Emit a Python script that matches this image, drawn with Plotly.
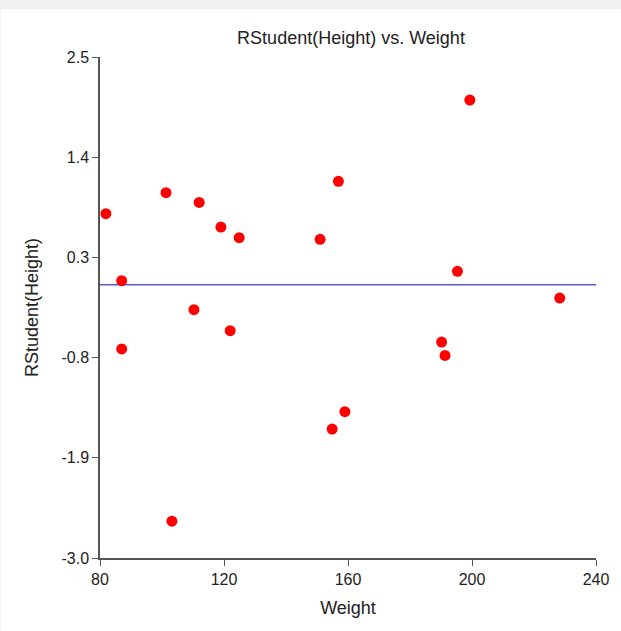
import plotly.graph_objects as go

weight = [81.9, 87.0, 87.0, 101.3, 103.2, 110.3, 112.0, 119.0, 122.0, 124.9,
          151.0, 156.9, 154.9, 159.0, 190.2, 191.3, 195.3, 199.3, 228.3]
rstudent = [0.78, 0.044, -0.705, 1.011, -2.596, -0.274, 0.904, 0.633, -0.505, 0.517,
            0.498, 1.135, -1.585, -1.394, -0.630, -0.776, 0.147, 2.028, -0.147]

x_ticks = [80, 120, 160, 200, 240]
y_ticks = [-3.0, -1.9, -0.8, 0.3, 1.4, 2.5]
ref_x = [80, 240]
ref_y = [0.0, 0.0]

font = "Liberation Sans, Arial, sans-serif"

fig = go.Figure()
fig.add_trace(go.Scatter(x=ref_x, y=ref_y, mode="lines",
                         line=dict(color="#5b5bd6", width=1.5), hoverinfo="skip"))
fig.add_trace(go.Scatter(x=weight, y=rstudent, mode="markers",
                         marker=dict(color="#ff0000", size=11, line=dict(width=0))))

fig.update_layout(
    width=621, height=631,
    margin=dict(l=100, r=17, t=57, b=73, pad=0),
    paper_bgcolor="#f0f0f0", plot_bgcolor="white",
    showlegend=False,
    font=dict(family=font, color="#222222", size=16),
    title=dict(text="RStudent(Height) vs. Weight", x=351/621, xanchor="center",
               y=1 - 38/631, yanchor="middle", font=dict(size=18, family=font, color="#222222")),
    shapes=[dict(type="rect", xref="paper", yref="paper", x0=-0.2, x1=1.05,
                 y0=-0.16, y1=(557.5 - 9) / 500.8, fillcolor="white",
                 line=dict(width=0), layer="below")],
)
fig.update_xaxes(range=[80, 240], tickvals=x_ticks, ticktext=[str(v) for v in x_ticks],
                 showgrid=False, zeroline=False, showline=True, linecolor="#555555", linewidth=1.5,
                 ticks="outside", ticklen=6, tickcolor="#555555", tickfont=dict(size=16),
                 title=dict(text="Weight", font=dict(size=18), standoff=14))
fig.update_yaxes(range=[-3.0, 2.5], tickvals=y_ticks, ticktext=[f"{v:.1f}" for v in y_ticks],
                 showgrid=False, zeroline=False, showline=True, linecolor="#555555", linewidth=1.5,
                 ticks="outside", ticklen=6, tickcolor="#555555", tickfont=dict(size=16),
                 title=dict(text="RStudent(Height)", font=dict(size=18), standoff=18))

fig.write_html("out.html")
